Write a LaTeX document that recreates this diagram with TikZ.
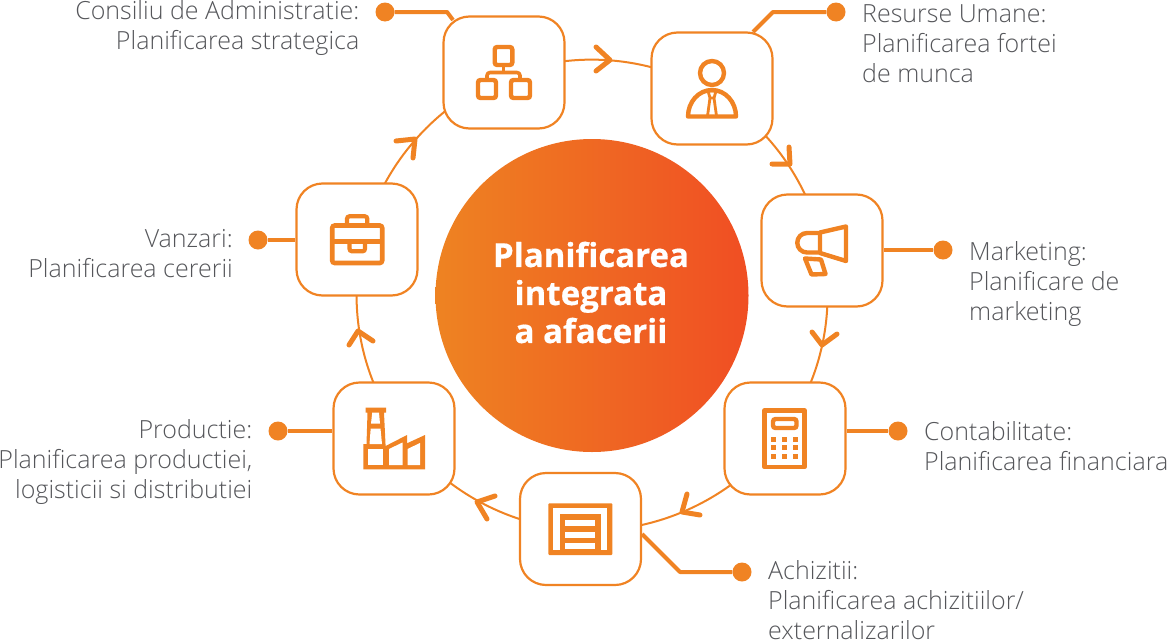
\documentclass[tikz,border=0pt]{standalone}
\usepackage{fontspec}
\setmainfont{Open Sans}[UprightFont={* Light},BoldFont={Open Sans Bold}]
\newfontfamily\boldsans{Open Sans}[UprightFont={* Bold},FakeBold=0.5]
\usetikzlibrary{backgrounds}
\definecolor{org}{HTML}{F08323}
\definecolor{redorg}{HTML}{F04E23}
\definecolor{lefto}{HTML}{EE8322}
\definecolor{txt}{HTML}{55565A}
\tikzset{
  x=1pt,y=-1pt,
  card/.style={draw=org,line width=2.2pt,fill=white,rounded corners=26pt,minimum width=121pt,minimum height=112pt,inner sep=0pt},
  ring/.style={draw=org,line width=2pt,looseness=.893},
  chev/.style={draw=org,line width=5pt,line cap=round,line join=round},
  lead/.style={draw=org,line width=4pt,line join=round},
  dotn/.style={circle,fill=org,minimum size=19pt,inner sep=0pt},
  lab/.style={inner sep=0pt,text=txt,font=\fontsize{25}{30}\selectfont},
  ic/.style={draw=org,line width=4.4pt,line join=round},
  icr/.style={draw=org,line width=4.4pt,rounded corners=2.5pt},
  icf/.style={fill=org,draw=none},
  icw/.style={fill=white,draw=none},
}
\begin{document}
\begin{tikzpicture}
\useasboundingbox (0,0) rectangle (1167,640);
% cards
\node[card] (b1) at (504,72.5) {};
\node[card] (b2) at (712,88.5) {};
\node[card] (b3) at (822,250.5) {};
\node[card] (b4) at (785,438.5) {};
\node[card] (b5) at (580.5,529) {};
\node[card] (b6) at (394,438.5) {};
\node[card] (b7) at (357,239.5) {};
% ring points, hidden inside the cards
\coordinate (r1) at (505.3,76);
\coordinate (r2) at (710.5,91.5);
\coordinate (r3) at (823.2,250.1);
\coordinate (r4) at (781.1,435.4);
\coordinate (r5) at (580.5,530.3);
\coordinate (r6) at (401.5,433.4);
\coordinate (r7) at (362.9,240.8);
% ring connectors
\begin{scope}[on background layer]
\draw[ring] (r1) to[bend left=25.9] (r2);
\draw[ring] (r2) to[bend left=24.4] (r3);
\draw[ring] (r3) to[bend left=23.8] (r4);
\draw[ring] (r4) to[bend left=28.1] (r5);
\draw[ring] (r5) to[bend left=25.6] (r6);
\draw[ring] (r6) to[bend left=24.65] (r7);
\draw[ring] (r7) to[bend left=27.55] (r1);
\end{scope}
% chevrons
\draw[chev] (596,47) -- (610,60) -- (596,71);
\draw[chev] (772,164) -- (790,164) -- (789,147);
\draw[chev] (812,332) -- (822,345) -- (837,334);
\draw[chev] (700,515) -- (682,512) -- (687,494);
\draw[chev] (495,496) -- (477,502) -- (487,519);
\draw[chev] (349,345) -- (358,331) -- (373,341);
\draw[chev] (396,141) -- (415,139) -- (413,158);
% centre disc
\node[circle,minimum size=313pt,inner sep=0pt,left color=lefto,right color=redorg] (hub) at (592,295.5) {};
\node[text=white,align=center,inner sep=0pt,font=\boldsans\fontsize{33}{38}\selectfont] (hubt) at (591,292.5)
  {Planificarea\\integrata\\a afacerii};
% leaders
\node[dotn] (d1) at (385,12) {};
\node[dotn] (d2) at (836,12) {};
\node[dotn] (d3) at (943,250) {};
\node[dotn] (d4) at (898,431) {};
\node[dotn] (d5) at (742,572) {};
\node[dotn] (d6) at (278,431) {};
\node[dotn] (d7) at (258,240) {};
\coordinate (k1) at (447,12);
\coordinate (e1) at (453,20);
\coordinate (k2) at (773,12);
\coordinate (e2) at (753,32);
\coordinate (k5) at (680,572);
\coordinate (e5) at (642,534);
\draw[lead] (d1) -- (k1) -- (e1);
\draw[lead] (d2) -- (k2) -- (e2);
\draw[lead] (d3) -- (d3 -| b3.east);
\draw[lead] (d4) -- (d4 -| b4.east);
\draw[lead] (d5) -- (k5) -- (e5);
\draw[lead] (d6) -- (d6 -| b6.west);
\draw[lead] (d7) -- (d7 -| b7.west);
% labels
\node[lab,align=right,anchor=north east] (t1) at (359.5,0.5) {Consiliu de Administratie:\\Planificarea strategica};
\node[lab,align=left,anchor=north west] (t2) at (862,4.5) {Resurse Umane:\\Planificarea fortei\\de munca};
\node[lab,align=left,anchor=north west] (t3) at (969,241) {Marketing:\\Planificare de\\marketing};
\node[lab,align=left,anchor=north west] (t4) at (924,421) {Contabilitate:\\Planificarea financiara};
\node[lab,align=left,anchor=north west] (t5) at (768,560) {Achizitii:\\Planificarea achizitiilor/\\externalizarilor};
\node[lab,align=right,anchor=north east] (t6) at (252.5,419) {Productie:\\Planificarea productiei,\\logisticii si distributiei};
\node[lab,align=right,anchor=north east] (t7) at (233,229) {Vanzari:\\Planificarea cererii};
% icon: org chart
\draw[icr] (494.7,47) rectangle (512.3,65);
\draw[icr] (478,80) rectangle (496,98);
\draw[icr] (511,80) rectangle (530,98);
\draw[ic,rounded corners=3pt,line width=3.6pt] (487,80) -- (487,72.5) -- (520,72.5) -- (520,80);
\draw[ic,line width=3.6pt] (503.5,65) -- (503.5,72.5);
% icon: person
\draw[ic] (712,73) circle (12);
\draw[ic] (688,116.5) arc[start angle=180,end angle=360,radius=24,y radius=26.5] -- cycle;
\draw[ic,line width=2.8pt] (708,91) -- (716,91) -- (714,98) -- (710,98) -- cycle;
\draw[ic,line width=2.8pt] (710,98) -- (707.5,116) (714,98) -- (716.5,116);
% icon: megaphone
\draw[ic] (820,232.5) -- (846,226.5) -- (846,261) -- (820,253) -- cycle;
\draw[ic] (820,233) -- (807,233) arc[start angle=270,end angle=90,radius=9.75] -- (820,252.5);
\draw[ic] (805,258.5) -- (811.5,274.5) -- (825.5,274) -- (821,259.5) -- cycle;
% icon: calculator
\draw[draw=org,line width=4.6pt,line join=round] (764.5,410.5) rectangle (804.5,467);
\draw[icr,line width=4.4pt] (773,419) rectangle (796.5,428);
\foreach \xx in {773.3,784.3,795.3}{\foreach \yy in {439,447.3,456}{
  \fill[org] (\xx-2.5,\yy-2.5) rectangle (\xx+2.5,\yy+2.5);}}
% icon: factory
\fill[icf] (363.3,444) -- (366.5,444) -- (367.5,412.7) -- (365.7,412.7) -- (365.7,407.7) -- (386,407.7) -- (386,412.7) -- (384,412.7) -- (385.6,446)
 -- (407,435) -- (407,443.3) -- (425,435) -- (425,469.3) -- (363.3,469.3) -- cycle;
\fill[icw] (368.3,449) rectangle (383.3,465);
\fill[icw] (389,449) -- (402.5,442.5) -- (402.5,465) -- (389,465) -- cycle;
\fill[icw] (407.5,449) -- (420,443) -- (420,465) -- (407.5,465) -- cycle;
\fill[icw] (372.2,412.7) -- (379,412.7) -- (380,423.5) -- (371,423.5) -- cycle;
\fill[icw] (370.7,428.5) -- (380.5,428.5) -- (382,444) -- (369.5,444) -- cycle;
% icon: warehouse
\fill[icf,rounded corners=1pt] (548.3,503.3) rectangle (612.3,555);
\fill[icw] (553.3,507.7) rectangle (607.3,550);
\fill[icf] (560,514.3) rectangle (600.7,555);
\fill[icw] (565.3,520) rectangle (595.3,526);
\fill[icw] (565.3,531.7) rectangle (595.3,537.7);
\fill[icw] (565.3,543.3) rectangle (595.3,549.3);
% icon: briefcase
\draw[icr,line width=4.6pt] (332.2,225.5) rectangle (382.2,263);
\draw[ic,line width=4.6pt] (332.2,241.7) -- (382.2,241.7);
\draw[icr,line width=4.2pt] (347,223.5) -- (347,216.3) -- (367.3,216.3) -- (367.3,223.5);
\draw[icr,line width=4.2pt] (349.5,241.7) -- (349.5,251.3) -- (365,251.3) -- (365,241.7);
\end{tikzpicture}
\end{document}
